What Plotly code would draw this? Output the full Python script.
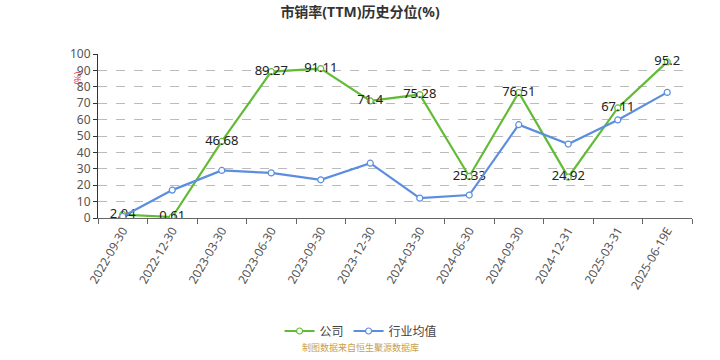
import plotly.graph_objects as go

categories = ["2022-09-30", "2022-12-30", "2023-03-30", "2023-06-30", "2023-09-30",
              "2023-12-30", "2024-03-30", "2024-06-30", "2024-09-30", "2024-12-31",
              "2025-03-31", "2025-06-19E"]
company = [2.04, 0.61, 46.68, 89.27, 91.11, 71.4, 75.28, 25.33, 76.51, 24.92, 67.11, 95.2]
industry = [0.9, 17.0, 29.0, 27.5, 23.3, 33.4, 12.1, 14.0, 56.9, 45.1, 59.8, 76.6]
y_ticks = [0, 10, 20, 30, 40, 50, 60, 70, 80, 90, 100]

green = "#62bb35"
blue = "#5b8de0"
font = "Noto Sans, Noto Sans CJK SC, sans-serif"

W, H = 720, 360
l, r, t, b = 97.5, 720 - 692.5, 54, 360 - 217.7
pw, ph = W - l - r, H - t - b
def px(x): return (x - l) / pw
def py(y): return (H - b - y) / ph

fig = go.Figure()
fig.add_trace(go.Scatter(
    x=categories, y=company, name="公司", mode="lines+markers+text",
    line=dict(color=green, width=2.2),
    marker=dict(symbol="circle", size=6, color="white", line=dict(color=green, width=1.2)),
    text=[str(v) for v in company], textposition="middle center",
    textfont=dict(color="#222", size=13, family=font),
))
fig.add_trace(go.Scatter(
    x=categories, y=industry, name="行业均值", mode="lines+markers",
    line=dict(color=blue, width=2.2),
    marker=dict(symbol="circle", size=6, color="white", line=dict(color=blue, width=1.2)),
))

fig.update_layout(
    width=W, height=H,
    margin=dict(l=l, r=r, t=t, b=b, autoexpand=False),
    paper_bgcolor="white", plot_bgcolor="white",
    font=dict(family=font, size=12, color="#555"),
    title=dict(text="<b>市销率(TTM)历史分位(%)</b>", x=0.5, xanchor="center",
               y=1 - 12 / H, yanchor="middle", yref="container",
               font=dict(size=14, color="#333", family=font)),
    showlegend=True,
    legend=dict(orientation="h", x=px(361), xanchor="center", yref="container",
                y=1 - 331 / H, yanchor="middle", itemwidth=30,
                font=dict(size=12, color="#444", family=font)),
    xaxis=dict(type="category", tickangle=-60, tickson="boundaries", ticks="outside", ticklen=5,
               tickcolor="#666", showline=True, linecolor="#666", linewidth=1, showgrid=False,
               automargin=False,
               tickfont=dict(size=12, color="#555", family=font), range=[-0.5, 11.5]),
    yaxis=dict(range=[0, 100], tickvals=y_ticks, ticks="outside", ticklen=4, tickcolor="#333",
               showline=True, linecolor="#333", linewidth=1, showgrid=True, gridcolor="#bbb",
               griddash="dash", gridwidth=1, zeroline=False, automargin=False,
               tickfont=dict(size=12, color="#555", family=font)),
    annotations=[
        dict(text="(%)", x=px(68), y=py(70), xref="paper", yref="paper", showarrow=False,
             textangle=-90, font=dict(size=9, color="#d33", family=font)),
        dict(text="制图数据来自恒生聚源数据库", x=px(360), y=py(355), xref="paper", yref="paper",
             showarrow=False, font=dict(size=9, color="#c8a050", family=font)),
    ],
)

fig.write_html("out.html", config={"displayModeBar": False},
               post_script="document.body.style.margin='0';document.body.style.overflow='hidden';")
